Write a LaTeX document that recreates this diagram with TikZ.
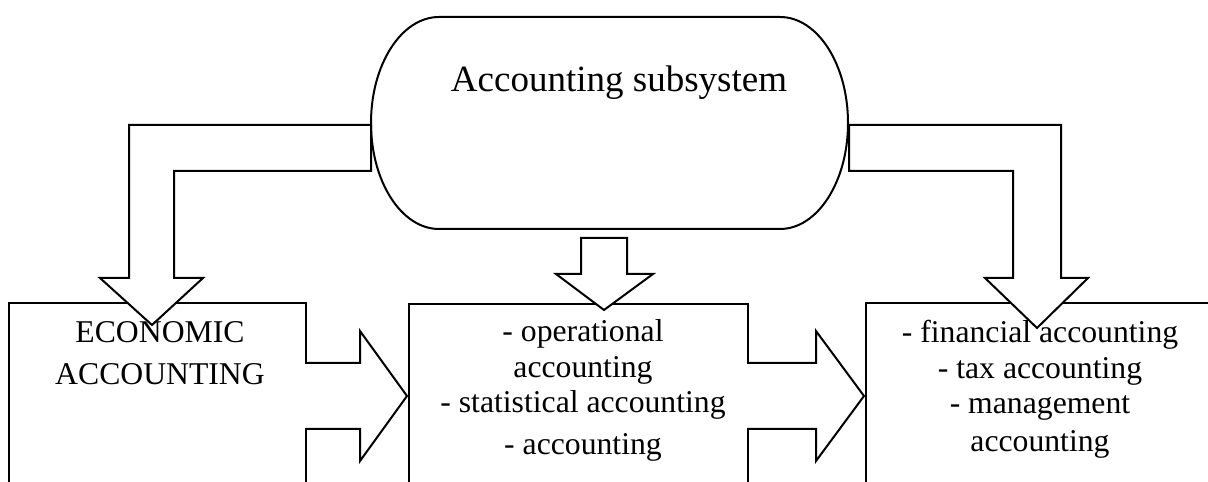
\documentclass[tikz,border=0pt]{standalone}
\usepackage{fontspec}
\setmainfont[Ligatures=NoCommon]{Liberation Serif}
\begin{document}
\begin{tikzpicture}[x=1pt,y=1pt,
  outline/.style={draw=black, line width=2pt, line join=miter},
  boxshape/.style={outline, fill=white, rectangle, inner sep=0pt, anchor=north west},
  blockarrow/.style={outline, fill=white},
  boxtext/.style={font=\fontsize{31.7}{35.5}\selectfont, align=center, anchor=base, inner sep=0pt},
  titletext/.style={font=\fontsize{37}{44}\selectfont, inner sep=0pt, anchor=base}]
\useasboundingbox (0,0) rectangle (1208,482);

% the three category boxes (they run on below the lower edge)
\node[boxshape, minimum width=297pt, minimum height=220pt] (econ) at (8,180) {};
\node[boxshape, minimum width=339pt, minimum height=220pt] (mid) at (408,179) {};
\node[boxshape, minimum width=380pt, minimum height=220pt] (fin) at (865,180) {};

% stadium with elliptical ends
\draw[outline, fill=white] (439,465) -- (780,465)
  arc[start angle=90, end angle=-90, x radius=68, y radius=106]
  -- (439,253)
  arc[start angle=270, end angle=90, x radius=68, y radius=106] -- cycle;
\node[titletext] (subsys) at (619,390) {Accounting subsystem};

% bent block arrow to the left box
\draw[blockarrow] (371,357) -- (129,357) -- (129,204) -- (100,204) -- (152,157)
  -- (203,204) -- (174,204) -- (174,311) -- (371,311) -- cycle;
% bent block arrow to the right box
\draw[blockarrow] (849,357) -- (1061,357) -- (1061,204) -- (1088,204) -- (1037,154)
  -- (985,204) -- (1013,204) -- (1013,311) -- (849,311) -- cycle;
% short block arrow to the middle box
\draw[blockarrow] (581,244) -- (627,244) -- (627,208) -- (653,208) -- (604,172)
  -- (556,208) -- (581,208) -- cycle;

% horizontal block arrows growing out of the box sides
\fill[white] (303,119) -- (360,119) -- (360,151) -- (407,86) -- (360,21) -- (360,53) -- (303,53) -- cycle;
\draw[outline] (305,119) -- (360,119) -- (360,151) -- (407,86) -- (360,21) -- (360,53) -- (305,53);
\fill[white] (745,119) -- (816,119) -- (816,151) -- (864,86) -- (816,21) -- (816,53) -- (745,53) -- cycle;
\draw[outline] (747,119) -- (816,119) -- (816,151) -- (864,86) -- (816,21) -- (816,53) -- (747,53);

% box texts (anchored at the baseline of their last line)
\node[boxtext] (econtext) at (160,97) {ECONOMIC\\[6.5pt]ACCOUNTING};
\node[boxtext] (midtext) at (583,27) {- operational\\accounting\\- statistical accounting\\[6.5pt]- accounting};
\node[boxtext] (fintext) at (1040,30) {- financial accounting\\- tax accounting\\- management\\[3pt]accounting};
\end{tikzpicture}
\end{document}
